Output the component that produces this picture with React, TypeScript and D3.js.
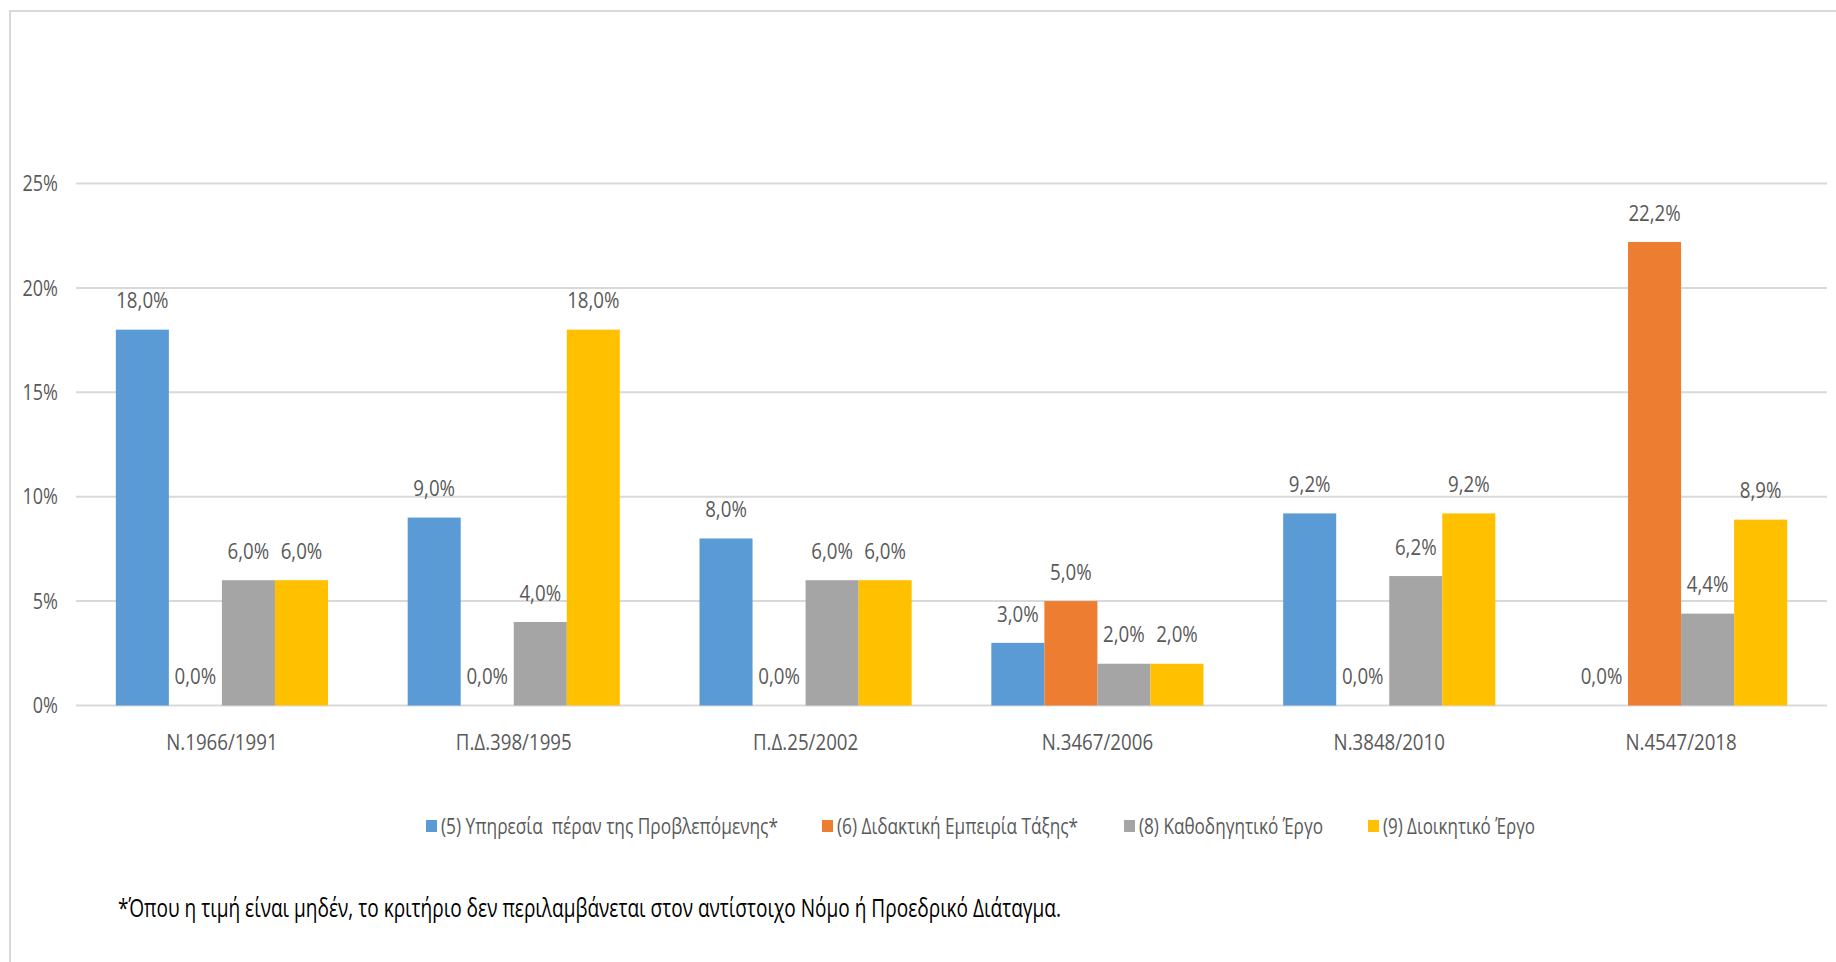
import React, { useEffect, useRef } from "react";
import * as d3 from "d3";

const categories = ["N.1966/1991", "Π.Δ.398/1995", "Π.Δ.25/2002", "N.3467/2006", "N.3848/2010", "N.4547/2018"];
const seriesNames = [
  "(5) Υπηρεσία  πέραν της Προβλεπόμενης*",
  "(6) Διδακτική Εμπειρία Τάξης*",
  "(8) Καθοδηγητικό Έργο",
  "(9) Διοικητικό Έργο",
];
const s5 = [18.0, 9.0, 8.0, 3.0, 9.2, 0.0];
const s6 = [0.0, 0.0, 0.0, 5.0, 0.0, 22.2];
const s8 = [6.0, 4.0, 6.0, 2.0, 6.2, 4.4];
const s9 = [6.0, 18.0, 6.0, 2.0, 9.2, 8.9];
const seriesValues = [s5, s6, s8, s9];
const colors = ["#5B9BD5", "#ED7D31", "#A5A5A5", "#FFC000"];
const yTicks = [0, 5, 10, 15, 20, 25];
const footnote = "*Όπου η τιμή είναι μηδέν, το κριτήριο δεν περιλαμβάνεται στον αντίστοιχο Νόμο ή Προεδρικό Διάταγμα.";

const W = 1836;
const H = 962;
const FONT = "'Open Sans', 'Noto Sans', sans-serif";
const SX = 0.8;

export default function App() {
  const ref = useRef<SVGSVGElement>(null);

  useEffect(() => {
    const svg = d3.select(ref.current);
    svg.selectAll("*").remove();

    const addText = (
      parent: any,
      x: number,
      y: number,
      str: string,
      opts: { anchor?: string; size?: number; fill?: string; sx?: number; len?: number }
    ) => {
      const sx = opts.sx ?? SX;
      const g = parent.append("g").attr("transform", `translate(${x},${y}) scale(${sx},1)`);
      const t = g.append("text")
        .attr("x", 0).attr("y", 0).attr("dy", "0.35em")
        .attr("text-anchor", opts.anchor ?? "start")
        .attr("font-family", FONT)
        .attr("font-size", opts.size ?? 22)
        .attr("fill", opts.fill ?? "#595959")
        .attr("xml:space", "preserve")
        .text(str);
      if (opts.len) t.attr("textLength", opts.len / sx).attr("lengthAdjust", "spacingAndGlyphs");
      return t;
    };

    const left = 76, right = 1827, top = 183.5, bottom = 705.5;
    const x = d3.scaleBand<string>().domain(categories).range([left, right]).paddingInner(0).paddingOuter(0);
    const y = d3.scaleLinear().domain([0, 25]).range([bottom, top]);
    const groupW = x.bandwidth() * 0.727;
    const xs = d3.scaleBand<number>().domain(d3.range(seriesNames.length)).range([0, groupW]);

    svg.append("rect").attr("width", W).attr("height", H).attr("fill", "#fff");
    // border (extends beyond right/bottom edges)
    svg.append("path").attr("d", `M10,${H + 5} L10,11 L${W + 5},11`).attr("fill", "none").attr("stroke", "#D9D9D9").attr("stroke-width", 2);

    // gridlines
    svg.append("g").selectAll("line").data(yTicks).join("line")
      .attr("x1", left).attr("x2", right)
      .attr("y1", (d) => y(d)).attr("y2", (d) => y(d))
      .attr("stroke", "#D9D9D9").attr("stroke-width", 2);

    // y tick labels
    const yg = svg.append("g");
    yTicks.forEach((d) => addText(yg, 58, y(d), `${d}%`, { anchor: "end", sx: 0.82 }));

    // bars
    seriesValues.forEach((vals, si) => {
      const g = svg.append("g");
      const bx = (i: number) => (x(categories[i]) as number) + (x.bandwidth() - groupW) / 2 + (xs(si) as number);
      g.selectAll("rect").data(vals).join("rect")
        .attr("x", (_, i) => bx(i))
        .attr("width", xs.bandwidth())
        .attr("y", (d) => y(d))
        .attr("height", (d) => bottom - y(d))
        .attr("fill", colors[si]);
      vals.forEach((d, i) => {
        addText(g, bx(i) + xs.bandwidth() / 2, y(d) - 29, d.toFixed(1).replace(".", ",") + "%", { anchor: "middle", sx: 0.85 });
      });
    });

    // category labels
    const cg = svg.append("g");
    categories.forEach((c) => addText(cg, (x(c) as number) + x.bandwidth() / 2, 742.5, c, { anchor: "middle", sx: 0.85 }));

    // legend
    const legendX = [426, 822, 1124, 1368];
    const legendLen = [337, 241, 184, 152];
    const lg = svg.append("g");
    seriesNames.forEach((name, i) => {
      lg.append("rect").attr("x", legendX[i]).attr("y", 820).attr("width", 11).attr("height", 12).attr("fill", colors[i]);
      addText(lg, legendX[i] + 15, 826, name, { len: legendLen[i] });
    });

    // footnote
    addText(svg, 118, 908, footnote, { size: 26, fill: "#000", len: 943, sx: 0.75 });
  }, []);

  return (
    <svg ref={ref} width={W} height={H} style={{ position: "absolute", left: 0, top: 0, display: "block" }} />
  );
}
